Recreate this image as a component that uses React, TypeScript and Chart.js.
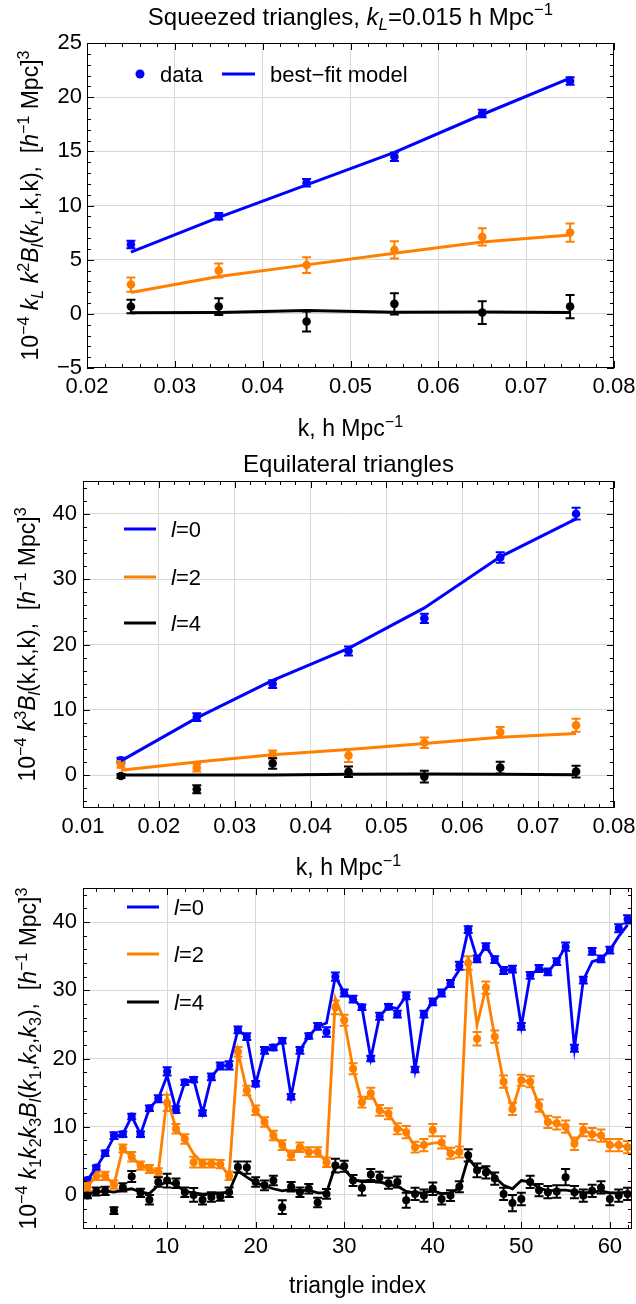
import React, { useEffect, useRef } from "react";
import { Chart, registerables } from "chart.js";
Chart.register(...registerables);

// ---------- Data ----------
// Panel 1: squeezed triangles
const sqK = [0.025, 0.035, 0.045, 0.055, 0.065, 0.075];
const sqB0 = [6.4, 9.0, 12.1, 14.5, 18.5, 21.5];
const sqB0err = [0.35, 0.3, 0.35, 0.4, 0.35, 0.35];
const sqB0fit = [5.7, 8.9, 11.9, 14.9, 18.4, 21.75];
const sqB2 = [2.7, 4.0, 4.5, 5.9, 7.1, 7.5];
const sqB2err = [0.65, 0.65, 0.72, 0.8, 0.8, 0.85];
const sqB2fit = [1.97, 3.44, 4.52, 5.6, 6.62, 7.27];
const sqB4 = [0.67, 0.67, -0.71, 0.92, 0.12, 0.67];
const sqB4err = [0.62, 0.77, 0.92, 0.97, 1.05, 1.08];
const sqB4fit = [0.1, 0.12, 0.3, 0.15, 0.18, 0.12];

// Panel 2: equilateral triangles
const eqK = [0.015, 0.025, 0.035, 0.045, 0.055, 0.065, 0.075];
const eqB0 = [2.3, 8.9, 13.95, 19.0, 24.0, 33.3, 40.0];
const eqB0err = [0.4, 0.6, 0.6, 0.7, 0.7, 0.8, 0.9];
const eqB0fit = [2.2, 8.77, 14.5, 19.4, 25.6, 33.4, 39.2];
const eqB2 = [1.67, 1.17, 3.19, 3.04, 4.97, 6.6, 7.65];
const eqB2err = [0.5, 0.6, 0.6, 1.0, 0.8, 0.8, 1.0];
const eqB2fit = [0.76, 2.03, 3.14, 3.95, 4.87, 5.83, 6.39];
const eqB4 = [-0.1, -2.13, 1.82, 0.55, -0.2, 1.17, 0.56];
const eqB4err = [0.3, 0.6, 0.8, 0.8, 0.9, 0.9, 0.9];
const eqB4fit = [0.05, 0.05, 0.05, 0.15, 0.2, 0.15, 0.1];

// Panel 3: all triangles
const triIdx = [
  1, 2, 3, 4, 5, 6, 7, 8, 9, 10, 11, 12, 13, 14, 15, 16, 17, 18, 19, 20,
  21, 22, 23, 24, 25, 26, 27, 28, 29, 30, 31, 32, 33, 34, 35, 36, 37, 38, 39, 40,
  41, 42, 43, 44, 45, 46, 47, 48, 49, 50, 51, 52, 53, 54, 55, 56, 57, 58, 59, 60,
  61, 62,
];
const allB0 = [
  2.2, 4.0, 6.1, 8.7, 8.9, 11.5, 8.9, 12.7, 14.1, 18.1,
  12.5, 16.5, 16.9, 12.0, 17.3, 18.9, 19.0, 24.2, 23.2, 16.3,
  21.2, 21.6, 22.6, 14.4, 21.2, 23.3, 24.7, 23.9, 32.0, 29.6,
  28.7, 27.5, 20.0, 26.2, 27.6, 26.5, 29.2, 18.4, 26.5, 28.3,
  29.6, 31.0, 33.6, 38.9, 34.6, 36.4, 34.5, 32.9, 33.1, 24.7,
  32.2, 33.2, 32.7, 34.2, 36.4, 21.5, 31.5, 35.7, 34.6, 35.9, 39.1, 40.4,
];
const allB0err = [
  0.3, 0.3, 0.4, 0.5, 0.4, 0.4, 0.4, 0.4, 0.5, 0.6,
  0.5, 0.4, 0.4, 0.4, 0.5, 0.5, 0.6, 0.5, 0.5, 0.4,
  0.5, 0.4, 0.4, 0.4, 0.5, 0.4, 0.5, 0.7, 0.6, 0.5,
  0.5, 0.4, 0.4, 0.5, 0.4, 0.5, 0.5, 0.4, 0.5, 0.5,
  0.5, 0.5, 0.6, 0.5, 0.5, 0.5, 0.5, 0.5, 0.5, 0.5,
  0.5, 0.5, 0.5, 0.5, 0.6, 0.5, 0.5, 0.5, 0.5, 0.5, 0.6, 0.6,
];
const allB0fit = [
  2.2, 4.0, 6.1, 8.5, 8.9, 11.5, 8.9, 12.7, 14.1, 17.5,
  12.5, 16.5, 16.9, 12.0, 17.3, 18.9, 19.0, 24.2, 23.2, 16.3,
  21.2, 21.6, 22.6, 14.4, 21.2, 23.3, 24.7, 25.2, 32.0, 29.6,
  28.7, 27.5, 20.0, 26.2, 27.6, 27.3, 29.2, 18.4, 26.5, 28.3,
  29.6, 31.0, 33.0, 38.9, 34.6, 36.4, 34.5, 32.9, 33.1, 24.7,
  32.2, 33.2, 32.7, 34.2, 36.4, 21.5, 31.5, 34.2, 34.6, 35.9, 37.9, 39.6,
];
const allB2 = [
  1.2, 2.8, 2.8, 1.5, 6.8, 5.6, 4.3, 3.8, 3.3, 13.5,
  9.7, 8.2, 4.8, 4.6, 4.6, 4.5, 2.8, 21.0, 15.3, 12.4,
  10.7, 8.7, 7.3, 5.8, 7.0, 6.3, 6.3, 4.8, 27.5, 25.6,
  18.5, 13.6, 14.9, 12.4, 11.9, 9.7, 9.2, 7.0, 7.3, 9.5,
  7.7, 6.1, 6.3, 34.0, 22.9, 30.4, 23.2, 16.6, 12.6, 16.8,
  16.6, 13.1, 10.7, 10.5, 10.0, 7.5, 9.5, 8.9, 8.7, 7.3, 7.3, 7.0,
];
const allB2err = [
  0.6, 0.6, 0.6, 0.6, 0.6, 0.7, 0.6, 0.6, 0.6, 1.2,
  0.7, 0.7, 0.8, 0.6, 0.6, 0.6, 0.6, 0.7, 0.7, 0.7,
  0.7, 0.7, 0.7, 0.7, 0.7, 0.7, 0.7, 0.7, 1.0, 0.8,
  0.8, 0.8, 0.8, 0.8, 0.8, 0.8, 0.9, 0.8, 0.9, 0.9,
  0.9, 0.8, 0.8, 1.0, 1.0, 0.9, 0.9, 0.9, 0.9, 0.8,
  0.8, 0.9, 0.9, 0.9, 0.9, 0.9, 0.9, 0.9, 0.9, 0.9, 0.9, 0.9,
];
const allB2fit = [
  1.2, 2.8, 2.8, 1.5, 6.8, 5.6, 4.3, 3.8, 3.3, 14.3,
  9.7, 8.2, 6.0, 4.6, 4.6, 4.5, 2.8, 21.0, 15.3, 12.4,
  10.7, 8.7, 7.3, 5.8, 7.0, 6.3, 6.3, 4.8, 28.8, 25.6,
  18.5, 13.6, 14.9, 12.4, 11.9, 10.0, 9.2, 7.0, 7.3, 7.6,
  7.7, 6.1, 6.3, 35.0, 24.9, 30.4, 23.2, 16.6, 12.6, 16.8,
  16.6, 13.1, 10.7, 10.5, 10.0, 7.5, 9.5, 8.9, 8.7, 7.3, 7.3, 7.0,
];
const allB4 = [
  -0.1, 0.5, 0.6, -2.3, 1.1, 2.7, 0.3, -0.7, 1.9, 2.1,
  1.7, 0.4, 0.0, -0.7, -0.3, -0.25, 0.4, 4.1, 4.0, 1.9,
  1.4, 2.1, -1.8, 1.2, 0.4, 0.9, -1.1, 0.15, 4.3, 4.2,
  2.1, 1.0, 3.0, 2.6, 1.7, 1.9, -0.8, 0.15, -0.1, 0.9,
  -0.6, -0.1, 1.2, 5.8, 3.6, 3.3, 2.4, 0.15, -1.2, -0.6,
  1.9, 0.7, 0.4, 0.5, 2.6, 0.4, -0.1, 0.6, 1.1, -0.6, -0.1, 0.15,
];
const allB4err = [
  0.4, 0.6, 0.6, 0.5, 0.6, 0.8, 0.6, 0.7, 0.7, 1.0,
  0.7, 0.7, 1.0, 0.7, 0.7, 0.6, 0.7, 0.8, 0.9, 0.7,
  0.7, 0.7, 1.0, 0.7, 0.7, 0.7, 0.7, 0.7, 1.0, 0.8,
  0.8, 1.1, 0.8, 0.8, 0.8, 0.8, 1.1, 0.9, 0.9, 0.9,
  0.8, 0.8, 0.8, 0.9, 1.0, 0.9, 0.9, 0.9, 1.2, 0.9,
  0.9, 0.9, 0.9, 0.9, 1.2, 0.9, 0.9, 0.9, 0.9, 0.9, 0.9, 0.9,
];
const allB4fit = [
  0.1, 0.4, 0.6, 0.4, 0.7, 0.9, 0.4, 0.2, 1.4, 1.9,
  1.5, 0.5, 0.3, 0.1, 0.2, 0.2, 0.5, 3.5, 2.6, 1.8,
  1.3, 0.9, 0.6, 0.8, 0.6, 0.7, 0.3, 0.3, 4.3, 3.8,
  2.3, 1.9, 2.0, 1.9, 1.5, 1.3, 0.5, 0.3, 0.3, 0.6,
  0.2, 0.3, 1.0, 5.4, 3.8, 4.1, 2.6, 1.4, 0.9, 2.1,
  1.9, 1.0, 0.6, 0.7, 0.7, 0.5, 0.3, 0.4, 0.6, 0.3, 0.3, 0.4,
];

// Tick labels
const p1XTicks = [0.02, 0.03, 0.04, 0.05, 0.06, 0.07, 0.08];
const p1YTicks = [-5, 0, 5, 10, 15, 20, 25];
const p2XTicks = [0.01, 0.02, 0.03, 0.04, 0.05, 0.06, 0.07, 0.08];
const p2YTicks = [0, 10, 20, 30, 40];
const p3XTicks = [10, 20, 30, 40, 50, 60];
const p3YTicks = [0, 10, 20, 30, 40];

// ---------- Style ----------
const BLUE = "rgb(0,0,255)";
const ORANGE = "rgb(255,128,0)";
const BLACK = "rgb(0,0,0)";
const FAMILY = '"Liberation Sans", Arial, Helvetica, sans-serif';
const FS = 22; // tick labels & legend
const FS_LABEL = 23; // axis labels
const FS_TITLE = 24; // panel titles

type Seg = [string, string?];

function range(a: number, b: number, step: number) {
  const out: number[] = [];
  const n = Math.round((b - a) / step);
  for (let i = 0; i <= n; i++) out.push(Math.round((a + i * step) * 1e6) / 1e6);
  return out;
}

function segStyle(size: number, st: string) {
  const script = st.includes("p") || st.includes("b");
  const sz = script ? size * 0.7 : size;
  return {
    font: `${st.includes("i") ? "italic " : ""}${sz}px ${FAMILY}`,
    dy: st.includes("p") ? -size * 0.4 : st.includes("b") ? size * 0.22 : 0,
  };
}

function drawRich(
  ctx: CanvasRenderingContext2D,
  segs: Seg[],
  cx: number,
  cy: number,
  size: number,
  rot = 0,
  align: "center" | "left" = "center",
  color = "#000"
) {
  ctx.save();
  ctx.translate(cx, cy);
  if (rot) ctx.rotate(rot);
  ctx.textBaseline = "alphabetic";
  ctx.textAlign = "left";
  let total = 0;
  const ms = segs.map(([t, st = ""]) => {
    const f = segStyle(size, st);
    ctx.font = f.font;
    const w = ctx.measureText(t).width;
    total += w;
    return { t, f, w };
  });
  let x = align === "center" ? -total / 2 : 0;
  const base = size * 0.36;
  ctx.fillStyle = color;
  for (const m of ms) {
    ctx.font = m.f.font;
    ctx.fillText(m.t, x, base + m.f.dy);
    x += m.w;
  }
  ctx.restore();
}

interface Series {
  x: number[];
  y: number[];
  err: number[];
  fit: number[];
  color: string;
}

interface Panel {
  top: number;
  height: number;
  padTop: number;
  padRight: number;
  yW: number;
  xH: number;
  xMin: number;
  xMax: number;
  xMajor: number[];
  xMinor: number[];
  xFmt: (v: number) => string;
  yMin: number;
  yMax: number;
  yMajor: number[];
  yMinor: number[];
  xTickPad: number;
  yTickPad: number;
  series: Series[];
  title?: Seg[];
  titleY?: number;
  xLabel: Seg[];
  xLabelY: number;
  yLabel: Seg[];
  yLabelX: number;
  legend: "data" | "lines";
  legendX: number;
  legendYs: number[];
  lineW: number;
  pointR: number;
}

const legendLabels: Seg[][] = [
  [["l", "i"], ["=0"]],
  [["l", "i"], ["=2"]],
  [["l", "i"], ["=4"]],
];

const PANELS: Panel[] = [
  {
    top: 0,
    height: 440,
    padTop: 43,
    padRight: 22,
    yW: 87,
    xH: 72,
    xMin: 0.02,
    xMax: 0.08,
    xMajor: p1XTicks,
    xMinor: range(0.02, 0.08, 0.002),
    xFmt: (v) => v.toFixed(2),
    yMin: -5,
    yMax: 25,
    yMajor: p1YTicks,
    yMinor: range(-5, 25, 1),
    xTickPad: 6,
    yTickPad: 5,
    series: [
      { x: sqK, y: sqB0, err: sqB0err, fit: sqB0fit, color: BLUE },
      { x: sqK, y: sqB2, err: sqB2err, fit: sqB2fit, color: ORANGE },
      { x: sqK, y: sqB4, err: sqB4err, fit: sqB4fit, color: BLACK },
    ],
    title: [["Squeezed triangles, "], ["k", "i"], ["L", "ib"], ["=0.015 h Mpc"], ["−1", "p"]],
    titleY: 16,
    xLabel: [["k, h Mpc"], ["−1", "p"]],
    xLabelY: 428,
    yLabel: [
      ["10"], ["−4", "p"], [" "], ["k", "i"], ["L", "ib"], [" "], ["k", "i"], ["2", "p"], ["B", "i"], ["l", "ib"],
      ["("], ["k", "i"], ["L", "ib"], [",k,k),  ["], ["h", "i"], ["−1", "p"], [" Mpc]"], ["3", "p"],
    ],
    yLabelX: 30,
    legend: "data",
    legendX: 140,
    legendYs: [74],
    lineW: 3,
    pointR: 4.3,
  },
  {
    top: 440,
    height: 442,
    padTop: 41,
    padRight: 22,
    yW: 83,
    xH: 74,
    xMin: 0.01,
    xMax: 0.08,
    xMajor: p2XTicks,
    xMinor: range(0.01, 0.08, 0.002),
    xFmt: (v) => v.toFixed(2),
    yMin: -5,
    yMax: 45,
    yMajor: p2YTicks,
    yMinor: range(-4, 44, 2),
    xTickPad: 6,
    yTickPad: 6,
    series: [
      { x: eqK, y: eqB0, err: eqB0err, fit: eqB0fit, color: BLUE },
      { x: eqK, y: eqB2, err: eqB2err, fit: eqB2fit, color: ORANGE },
      { x: eqK, y: eqB4, err: eqB4err, fit: eqB4fit, color: BLACK },
    ],
    title: [["Equilateral triangles"]],
    titleY: 23,
    xLabel: [["k, h Mpc"], ["−1", "p"]],
    xLabelY: 427,
    yLabel: [
      ["10"], ["−4", "p"], [" "], ["k", "i"], ["3", "p"], ["B", "i"], ["l", "ib"],
      ["(k,k,k),  ["], ["h", "i"], ["−1", "p"], [" Mpc]"], ["3", "p"],
    ],
    yLabelX: 27,
    legend: "lines",
    legendX: 124,
    legendYs: [89, 137, 183],
    lineW: 3,
    pointR: 4.3,
  },
  {
    top: 882,
    height: 422,
    padTop: 6,
    padRight: 1,
    yW: 83,
    xH: 75,
    xMin: 0.5,
    xMax: 62.5,
    xMajor: p3XTicks,
    xMinor: range(2, 62, 2),
    xFmt: (v) => String(v),
    yMin: -5,
    yMax: 45,
    yMajor: p3YTicks,
    yMinor: range(-4, 44, 2),
    xTickPad: 5,
    yTickPad: 6,
    series: [
      { x: triIdx, y: allB0, err: allB0err, fit: allB0fit, color: BLUE },
      { x: triIdx, y: allB2, err: allB2err, fit: allB2fit, color: ORANGE },
      { x: triIdx, y: allB4, err: allB4err, fit: allB4fit, color: BLACK },
    ],
    xLabel: [["triangle index"]],
    xLabelY: 403,
    yLabel: [
      ["10"], ["−4", "p"], [" "], ["k", "i"], ["1", "b"], ["k", "i"], ["2", "b"], ["k", "i"], ["3", "b"],
      ["B", "i"], ["l", "ib"], ["("], ["k", "i"], ["1", "b"], [","], ["k", "i"], ["2", "b"], [","],
      ["k", "i"], ["3", "b"], ["),  ["], ["h", "i"], ["−1", "p"], [" Mpc]"], ["3", "p"],
    ],
    yLabelX: 28,
    legend: "lines",
    legendX: 127,
    legendYs: [25, 72, 120],
    lineW: 2.8,
    pointR: 4,
  },
];

function buildConfig(p: Panel): any {
  const datasets: any[] = [];
  let order = 10;
  p.series.forEach((s) => {
    datasets.push({
      type: "line",
      data: s.x.map((x, i) => ({ x, y: s.y[i] })),
      errors: s.err,
      showLine: false,
      borderColor: s.color,
      backgroundColor: s.color,
      pointRadius: p.pointR,
      pointBorderWidth: 0,
      pointBackgroundColor: s.color,
      pointBorderColor: s.color,
      order: order--,
    });
  });
  p.series.forEach((s) => {
    datasets.push({
      type: "line",
      data: s.x.map((x, i) => ({ x, y: s.fit[i] })),
      borderColor: s.color,
      backgroundColor: s.color,
      borderWidth: p.lineW,
      pointRadius: 0,
      tension: 0,
      fill: false,
      order: order--,
    });
  });

  const gridColor = (min: number, max: number) => (c: any) => {
    const v = c.tick ? c.tick.value : NaN;
    return Math.abs(v - min) < 1e-9 || Math.abs(v - max) < 1e-9 ? "rgba(0,0,0,0)" : "rgb(216,216,216)";
  };

  const deco = {
    id: "deco",
    beforeDatasetDraw(chart: any, args: any) {
      const ds: any = chart.data.datasets[args.index];
      if (!ds.errors) return;
      const { ctx, chartArea: a } = chart;
      const xs = chart.scales.x;
      const ys = chart.scales.y;
      ctx.save();
      ctx.beginPath();
      ctx.rect(a.left, a.top, a.right - a.left, a.bottom - a.top);
      ctx.clip();
      ctx.strokeStyle = ds.borderColor;
      ctx.lineWidth = 2;
      const cap = 4.5;
      ds.data.forEach((pt: any, i: number) => {
        const e = ds.errors[i];
        const px = xs.getPixelForValue(pt.x);
        const y1 = ys.getPixelForValue(pt.y - e);
        const y2 = ys.getPixelForValue(pt.y + e);
        ctx.beginPath();
        ctx.moveTo(px, y1);
        ctx.lineTo(px, y2);
        ctx.moveTo(px - cap, y1);
        ctx.lineTo(px + cap, y1);
        ctx.moveTo(px - cap, y2);
        ctx.lineTo(px + cap, y2);
        ctx.stroke();
      });
      ctx.restore();
    },
    afterDraw(chart: any) {
      const { ctx, chartArea: a } = chart;
      const xs = chart.scales.x;
      const ys = chart.scales.y;
      ctx.save();
      // frame
      ctx.strokeStyle = "#000";
      ctx.lineWidth = 1;
      ctx.strokeRect(Math.round(a.left) + 0.5, Math.round(a.top) + 0.5, Math.round(a.right - a.left) - 1, Math.round(a.bottom - a.top) - 1);
      // inward ticks
      const tick = (v: number, len: number, horiz: boolean) => {
        if (horiz) {
          const px = Math.round(xs.getPixelForValue(v)) + 0.5;
          ctx.moveTo(px, a.bottom);
          ctx.lineTo(px, a.bottom - len);
          ctx.moveTo(px, a.top);
          ctx.lineTo(px, a.top + len);
        } else {
          const py = Math.round(ys.getPixelForValue(v)) + 0.5;
          ctx.moveTo(a.left, py);
          ctx.lineTo(a.left + len, py);
          ctx.moveTo(a.right, py);
          ctx.lineTo(a.right - len, py);
        }
      };
      ctx.beginPath();
      p.xMinor.forEach((v) => tick(v, 4, true));
      p.xMajor.forEach((v) => tick(v, 7, true));
      p.yMinor.forEach((v) => tick(v, 4, false));
      p.yMajor.forEach((v) => tick(v, 7, false));
      ctx.stroke();

      const cx = (a.left + a.right) / 2;
      const cy = (a.top + a.bottom) / 2;
      if (p.title) drawRich(ctx, p.title, cx, p.titleY!, FS_TITLE);
      drawRich(ctx, p.xLabel, cx, p.xLabelY, FS_LABEL);
      drawRich(ctx, p.yLabel, p.yLabelX, cy, FS_LABEL, -Math.PI / 2);

      // legend
      if (p.legend === "data") {
        const y = p.legendYs[0];
        ctx.fillStyle = BLUE;
        ctx.beginPath();
        ctx.arc(p.legendX, y, 4.5, 0, Math.PI * 2);
        ctx.fill();
        drawRich(ctx, [["data"]], p.legendX + 20, y, FS, 0, "left");
        ctx.strokeStyle = BLUE;
        ctx.lineWidth = 3;
        ctx.beginPath();
        ctx.moveTo(p.legendX + 82, y);
        ctx.lineTo(p.legendX + 115, y);
        ctx.stroke();
        drawRich(ctx, [["best−fit model"]], p.legendX + 130, y, FS, 0, "left");
      } else {
        p.series.forEach((s, i) => {
          const y = p.legendYs[i];
          ctx.strokeStyle = s.color;
          ctx.lineWidth = 3;
          ctx.beginPath();
          ctx.moveTo(p.legendX, y);
          ctx.lineTo(p.legendX + 32, y);
          ctx.stroke();
          drawRich(ctx, legendLabels[i], p.legendX + 47, y, FS, 0, "left");
        });
      }
      ctx.restore();
    },
  };

  return {
    type: "line",
    data: { datasets },
    plugins: [deco],
    options: {
      responsive: false,
      animation: false,
      devicePixelRatio: 1,
      events: [],
      layout: { padding: { top: p.padTop, right: p.padRight, left: 0, bottom: 0 } },
      plugins: { legend: { display: false }, tooltip: { enabled: false }, title: { display: false } },
      scales: {
        x: {
          type: "linear",
          min: p.xMin,
          max: p.xMax,
          afterBuildTicks: (s: any) => {
            s.ticks = p.xMajor.map((v) => ({ value: v }));
          },
          afterFit: (s: any) => {
            s.height = p.xH;
            s.paddingLeft = 0;
            s.paddingRight = 0;
          },
          ticks: {
            callback: (v: any) => p.xFmt(Number(v)),
            autoSkip: false,
            maxRotation: 0,
            minRotation: 0,
            padding: p.xTickPad,
            color: "#000",
            font: { family: FAMILY, size: FS },
          },
          grid: { color: gridColor(p.xMin, p.xMax), drawTicks: false, lineWidth: 1 },
          border: { display: false },
        },
        y: {
          type: "linear",
          min: p.yMin,
          max: p.yMax,
          afterBuildTicks: (s: any) => {
            s.ticks = p.yMajor.map((v) => ({ value: v }));
          },
          afterFit: (s: any) => {
            s.width = p.yW;
            s.paddingTop = 0;
            s.paddingBottom = 0;
          },
          ticks: {
            callback: (v: any) => String(v).replace("-", "−"),
            autoSkip: false,
            padding: p.yTickPad,
            color: "#000",
            font: { family: FAMILY, size: FS },
          },
          grid: { color: gridColor(p.yMin, p.yMax), drawTicks: false, lineWidth: 1 },
          border: { display: false },
        },
      },
    },
  };
}

function PanelChart({ p }: { p: Panel }) {
  const ref = useRef<HTMLCanvasElement>(null);
  useEffect(() => {
    const chart = new Chart(ref.current as HTMLCanvasElement, buildConfig(p));
    return () => chart.destroy();
  }, [p]);
  return (
    <canvas
      ref={ref}
      width={636}
      height={p.height}
      style={{ position: "absolute", left: 0, top: p.top, width: 636, height: p.height, display: "block" }}
    />
  );
}

export default function App() {
  return (
    <div style={{ position: "absolute", left: 0, top: 0, width: 636, height: 1304, background: "#fff", overflow: "hidden" }}>
      {PANELS.map((p, i) => (
        <PanelChart key={i} p={p} />
      ))}
    </div>
  );
}
